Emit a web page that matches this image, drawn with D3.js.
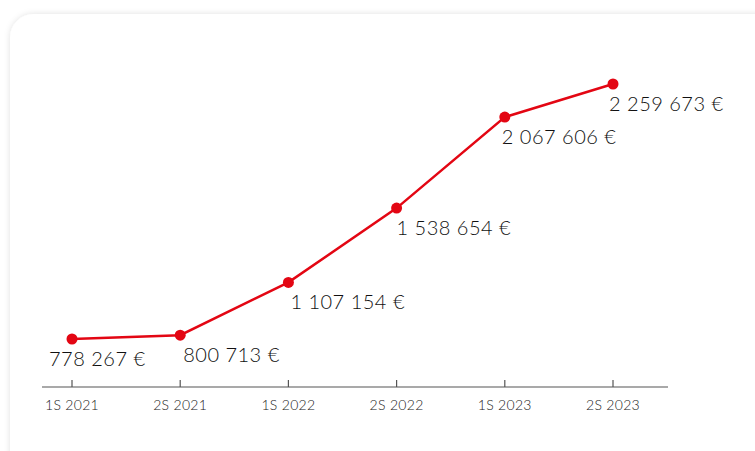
<!DOCTYPE html>
<html>
<head>
<meta charset="utf-8">
<script src="https://cdn.jsdelivr.net/npm/d3@7"></script>
<style>
  html, body { margin: 0; padding: 0; background: #fff; }
  svg { display: block; }
</style>
</head>
<body>
<div id="chart"></div>
<script>
// semesters and amounts (EUR)
const periods = ["1S 2021", "2S 2021", "1S 2022", "2S 2022", "1S 2023", "2S 2023"];
const amounts = [778267, 800713, 1107154, 1538654, 2067606, 2259673];

const width = 755;
const height = 451;

// horizontal nudge of each value label, relative to its point
const labelNudge = [-23, 3, 2, 0, -3, -4];

const svg = d3.select("#chart")
  .append("svg")
  .attr("width", width)
  .attr("height", height);

// card with soft shadow
const defs = svg.append("defs");
const filter = defs.append("filter")
  .attr("id", "shadow")
  .attr("x", "-10%").attr("y", "-10%")
  .attr("width", "130%").attr("height", "130%");
filter.append("feDropShadow")
  .attr("dx", 0).attr("dy", 0)
  .attr("stdDeviation", 3)
  .attr("flood-color", "#000")
  .attr("flood-opacity", 0.12);

svg.append("rect")
  .attr("x", 10)
  .attr("y", 14)
  .attr("width", 800)
  .attr("height", 500)
  .attr("rx", 24)
  .attr("fill", "#fff")
  .attr("filter", "url(#shadow)");

const x = d3.scalePoint()
  .domain(periods)
  .range([72, 613]);

const y = d3.scaleLinear()
  .domain([d3.min(amounts), d3.max(amounts)])
  .range([339, 84]);

// x axis
const axisY = 387;
svg.append("line")
  .attr("x1", 42).attr("x2", 668)
  .attr("y1", axisY).attr("y2", axisY)
  .attr("stroke", "#555")
  .attr("stroke-width", 1.2);

const ticks = svg.append("g").selectAll("g")
  .data(periods)
  .enter()
  .append("g")
  .attr("transform", d => `translate(${x(d)},${axisY})`);

ticks.append("line")
  .attr("y1", -7).attr("y2", 0)
  .attr("stroke", "#555")
  .attr("stroke-width", 1.2);

ticks.append("text")
  .attr("y", 23)
  .attr("text-anchor", "middle")
  .attr("font-family", "Lato, sans-serif")
  .attr("font-weight", 300)
  .attr("font-size", 14)
  .attr("letter-spacing", 0.3)
  .attr("fill", "#222")
  .text(d => d);

const fmt = v => d3.format(",")(v).replace(/,/g, " ") + " €";

const data = periods.map((p, i) => ({ period: p, value: amounts[i] }));

const line = d3.line()
  .x(d => x(d.period))
  .y(d => y(d.value));

svg.append("path")
  .datum(data)
  .attr("d", line)
  .attr("fill", "none")
  .attr("stroke", "#e30613")
  .attr("stroke-width", 2.5);

svg.selectAll("circle")
  .data(data)
  .enter()
  .append("circle")
  .attr("cx", d => x(d.period))
  .attr("cy", d => y(d.value))
  .attr("r", 5.5)
  .attr("fill", "#e30613");

// value labels below each point
svg.selectAll("text.value")
  .data(data)
  .enter()
  .append("text")
  .attr("class", "value")
  .attr("x", (d, i) => x(d.period) + labelNudge[i])
  .attr("y", d => y(d.value) + 27)
  .attr("font-family", "Lato, sans-serif")
  .attr("font-weight", 300)
  .attr("font-size", 20)
  .attr("letter-spacing", 0.5)
  .attr("fill", "#111")
  .text(d => fmt(d.value));
</script>
</body>
</html>
